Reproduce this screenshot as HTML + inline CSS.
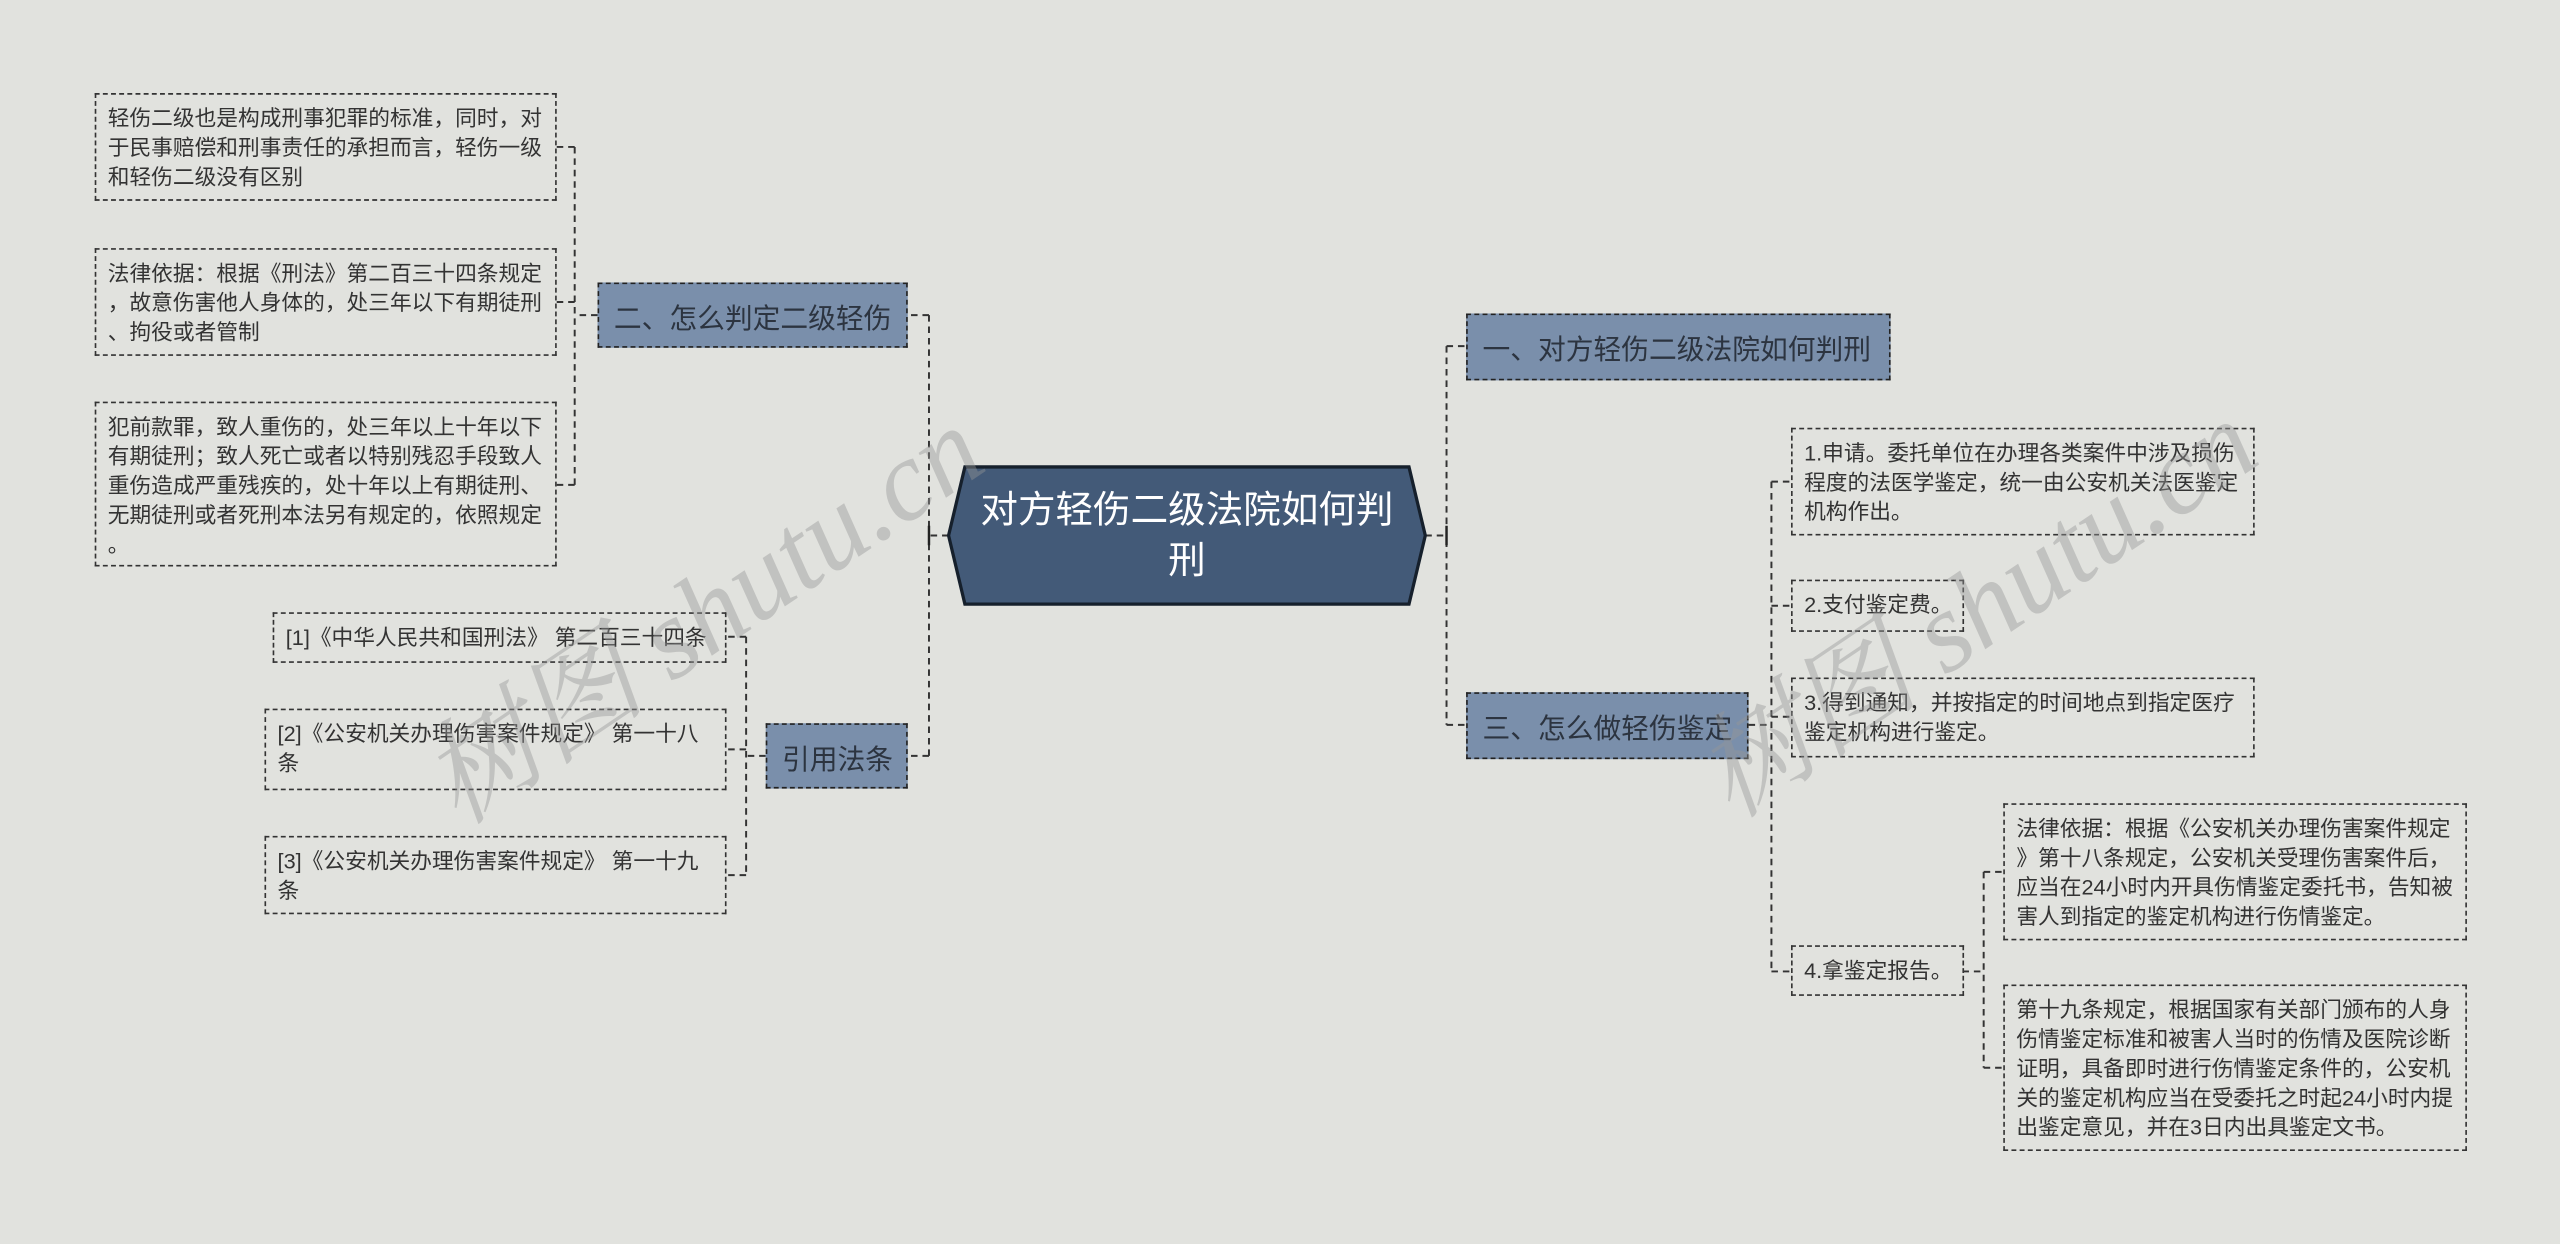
<!DOCTYPE html>
<html><head><meta charset="utf-8"><style>
html,body{margin:0;padding:0;width:2560px;height:1244px;overflow:hidden;background:#e1e2de}
#w{position:absolute;left:0;top:0;width:1568px;height:762px;transform:scale(1.63265);transform-origin:0 0;font-family:"Liberation Sans","Noto Sans CJK SC",sans-serif}
.n{position:absolute;box-sizing:border-box;border:1px dashed #333;color:#333;font-size:13.3px;line-height:18px;padding:6px 4px 0 7px;word-break:break-all;line-break:anywhere}
.b{position:absolute;box-sizing:border-box;border:1px dashed #222;background:#7a8fab;color:#2c3440;font-size:17px;display:flex;align-items:center;padding-left:9px;white-space:nowrap}
svg{position:absolute;left:0;top:0}
.wm{position:absolute;font-family:"Liberation Serif","Noto Serif CJK SC",serif;font-style:italic;font-size:70px;color:rgba(150,150,150,0.42);transform:rotate(-34deg);transform-origin:0 0;white-space:nowrap}
</style></head><body><div id="w">
<svg width="1568" height="762" viewBox="0 0 1568 762">
<g fill="none" stroke="#333" stroke-width="1.2" stroke-dasharray="4,3">
<path d="M581 328 H569 M569 193 V463 M569 193 H556 M569 463 H556"/>
<path d="M366 193 H352 M352 90 V297 M352 90 H340 M352 185 H340 M352 297 H340"/>
<path d="M469 463 H457 M457 390 V536 M457 390 H444 M457 459 H444 M457 536 H444"/>
<path d="M873 328 H886 M886 212 V444 M886 212 H898 M886 444 H898"/>
<path d="M1071 444 H1085 M1085 295 V595 M1085 295 H1097 M1085 371 H1097 M1085 439 H1097 M1085 595 H1097"/>
<path d="M1202 595 H1215 M1215 534 V654 M1215 534 H1227 M1215 654 H1227"/>
</g>
<g stroke="#222" stroke-width="1.5"><path d="M569 322V334 M886 322V334"/></g>
<polygon points="591,286 863,286 873,328 863,370 591,370 581,328" fill="#435a78" stroke="#16202c" stroke-width="2"/>
</svg>
<div style="position:absolute;left:597px;top:297px;width:260px;text-align:center;color:#fff;font-size:23px;line-height:31px;word-break:break-all">对方轻伤二级法院如何判刑</div>
<div class="b" style="left:366px;top:173px;width:190px;height:40px">二、怎么判定二级轻伤</div>
<div class="b" style="left:469px;top:443px;width:87px;height:40px">引用法条</div>
<div class="b" style="left:898px;top:192px;width:260px;height:41px">一、对方轻伤二级法院如何判刑</div>
<div class="b" style="left:898px;top:424px;width:173px;height:41px">三、怎么做轻伤鉴定</div>
<div class="n" style="left:58px;top:57px;width:283px;height:66px">轻伤二级也是构成刑事犯罪的标准，同时，对于民事赔偿和刑事责任的承担而言，轻伤一级和轻伤二级没有区别</div>
<div class="n" style="left:58px;top:152px;width:283px;height:66px">法律依据：根据《刑法》第二百三十四条规定，故意伤害他人身体的，处三年以下有期徒刑、拘役或者管制</div>
<div class="n" style="left:58px;top:246px;width:283px;height:101px">犯前款罪，致人重伤的，处三年以上十年以下有期徒刑；致人死亡或者以特别残忍手段致人重伤造成严重残疾的，处十年以上有期徒刑、无期徒刑或者死刑本法另有规定的，依照规定。</div>
<div class="n" style="left:167px;top:375px;width:278px;height:31px">[1]《中华人民共和国刑法》 第二百三十四条</div>
<div class="n" style="left:162px;top:434px;width:283px;height:50px">[2]《公安机关办理伤害案件规定》 第一十八条</div>
<div class="n" style="left:162px;top:512px;width:283px;height:48px">[3]《公安机关办理伤害案件规定》 第一十九条</div>
<div class="n" style="left:1097px;top:262px;width:284px;height:66px">1.申请。委托单位在办理各类案件中涉及损伤程度的法医学鉴定，统一由公安机关法医鉴定机构作出。</div>
<div class="n" style="left:1097px;top:355px;width:106px;height:32px">2.支付鉴定费。</div>
<div class="n" style="left:1097px;top:415px;width:284px;height:49px">3.得到通知，并按指定的时间地点到指定医疗鉴定机构进行鉴定。</div>
<div class="n" style="left:1097px;top:579px;width:106px;height:31px">4.拿鉴定报告。</div>
<div class="n" style="left:1227px;top:492px;width:284px;height:84px">法律依据：根据《公安机关办理伤害案件规定》第十八条规定，公安机关受理伤害案件后，应当在24小时内开具伤情鉴定委托书，告知被害人到指定的鉴定机构进行伤情鉴定。</div>
<div class="n" style="left:1227px;top:603px;width:284px;height:102px">第十九条规定，根据国家有关部门颁布的人身伤情鉴定标准和被害人当时的伤情及医院诊断证明，具备即时进行伤情鉴定条件的，公安机关的鉴定机构应当在受委托之时起24小时内提出鉴定意见，并在3日内出具鉴定文书。</div>
<div class="wm" style="left:236px;top:440px">树图 shutu.cn</div>
<div class="wm" style="left:1016px;top:436px">树图 shutu.cn</div>
</div></body></html>
